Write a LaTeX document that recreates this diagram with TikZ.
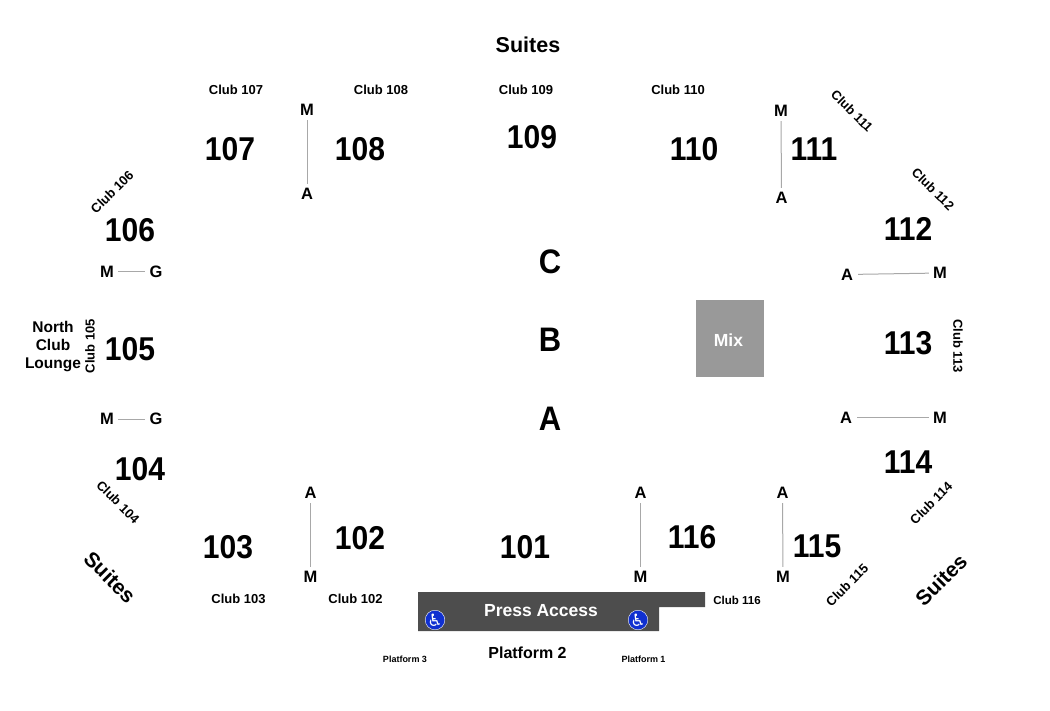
\documentclass[tikz,border=0pt]{standalone}
\usepackage{fontspec}
\setmainfont{Liberation Sans}
\newfontfamily\symfont{DejaVu Sans}
\newfontfamily\numfont[FakeStretch=0.91]{Liberation Sans}
\definecolor{pressgray}{HTML}{4D4D4D}
\definecolor{mixgray}{HTML}{999999}
\definecolor{aislegray}{HTML}{A8A8A8}
\definecolor{accessblue}{HTML}{1030D0}
\tikzset{
    secnum/.style={font=\numfont\fontsize{33}{33}\selectfont\bfseries, inner sep=0pt},
    rownum/.style={font=\numfont\fontsize{34}{34}\selectfont\bfseries, inner sep=0pt},
    clublabel/.style={font=\fontsize{13}{14}\selectfont\bfseries, inner sep=0pt},
    platlabel/.style={font=\fontsize{9}{10}\selectfont\bfseries, inner sep=0pt},
    biglabel/.style={font=\fontsize{15.5}{18}\selectfont\bfseries, inner sep=0pt},
    suiteslabel/.style={font=\fontsize{21}{22}\selectfont\bfseries, inner sep=0pt},
    aislelabel/.style={font=\fontsize{16.5}{17}\selectfont\bfseries, inner sep=0pt, minimum height=20pt, minimum width=22pt},
    aisleline/.style={draw=aislegray, line width=1pt},
    wheelchair/.style={circle, fill=accessblue, draw=white, line width=.4pt, text=white, minimum size=19pt, inner sep=0pt, font=\symfont\fontsize{17}{17}\selectfont},
}
\begin{document}
\begin{tikzpicture}[x=1pt, y=-1pt]
    \useasboundingbox (0,0) rectangle (1050,710);
    % sections
    \foreach \num/\px/\py in {101/525/547, 102/360/538, 103/228/547, 104/140/469,
        105/130/349, 106/130/230, 107/230/149, 108/360/149, 109/532/137, 110/694/149,
        111/814/149, 112/908/229, 113/908/343, 114/908/462, 115/817/546, 116/692/537}
        \node[secnum] (sec\num) at (\px,\py) {\num};
    % rows
    \node[rownum] (rowC) at (550,262) {C};
    \node[rownum] (rowB) at (550,340) {B};
    \node[rownum] (rowA) at (550,419) {A};
    % club labels
    \foreach \num/\px/\py in {102/355.5/599, 103/238.5/599, 107/236/90, 108/381/90, 109/526/90, 110/678/90}
        \node[clublabel] (club\num) at (\px,\py) {Club \num};
    \node[clublabel, font=\fontsize{11.5}{14}\selectfont\bfseries] (club116) at (737,600) {Club 116};
    \node[clublabel, rotate=-45] (club104) at (118,502) {Club 104};
    \node[clublabel, rotate=90]  (club105) at (90,346)  {Club 105};
    \node[clublabel, rotate=45]  (club106) at (112,192) {Club 106};
    \node[clublabel, rotate=-45] (club111) at (852,111) {Club 111};
    \node[clublabel, rotate=-45] (club112) at (933,189) {Club 112};
    \node[clublabel, rotate=-90] (club113) at (958,346) {Club 113};
    \node[clublabel, rotate=45]  (club114) at (931,503) {Club 114};
    \node[clublabel, rotate=45]  (club115) at (847,585) {Club 115};
    % suites
    \node[suiteslabel, font=\fontsize{21.5}{22}\selectfont\bfseries] (suitesT) at (528,45) {Suites};
    \node[suiteslabel, rotate=-45] (suitesL) at (110,577) {Suites};
    \node[suiteslabel, rotate=45]  (suitesR) at (941,580) {Suites};
    % north lounge
    \node[biglabel, align=center] (lounge) at (53,347) {North\\Club\\Lounge};
    % aisles
    \node[aislelabel] (m108) at (307,110) {M};
    \node[aislelabel] (a108) at (307,194) {A};
    \draw[aisleline] (m108) -- (a108);
    \node[aislelabel] (m111) at (781,111) {M};
    \node[aislelabel] (a111) at (781.5,198) {A};
    \draw[aisleline] (m111) -- (a111);
    \node[aislelabel] (a112) at (847,274.5) {A};
    \node[aislelabel] (m112) at (940,273) {M};
    \draw[aisleline] (a112) -- (m112);
    \node[aislelabel] (a114) at (846,417.5) {A};
    \node[aislelabel] (m114) at (940,417.5) {M};
    \draw[aisleline] (a114) -- (m114);
    \node[aislelabel] (m106) at (107,271.5) {M};
    \node[aislelabel] (g106) at (156,271.5) {G};
    \draw[aisleline] (m106) -- (g106);
    \node[aislelabel] (m104) at (107,419) {M};
    \node[aislelabel] (g104) at (156,419) {G};
    \draw[aisleline] (m104) -- (g104);
    \node[aislelabel] (a102) at (310.5,493) {A};
    \node[aislelabel] (m102) at (310.5,577) {M};
    \draw[aisleline] (a102) -- (m102);
    \node[aislelabel] (a116) at (640.5,493) {A};
    \node[aislelabel] (m116) at (640.5,577) {M};
    \draw[aisleline] (a116) -- (m116);
    \node[aislelabel] (a115) at (782.5,493) {A};
    \node[aislelabel] (m115) at (783,577) {M};
    \draw[aisleline] (a115) -- (m115);
    % mix
    \fill[mixgray] (696,300) rectangle (764,377);
    \node[text=white, font=\fontsize{17.5}{17}\selectfont\bfseries, inner sep=0pt] (mix) at (728.5,340) {Mix};
    % press
    \fill[pressgray] (418,592) -- (705,592) -- (705,607) -- (659,607) -- (659,631) -- (418,631) -- cycle;
    \node[font=\fontsize{17.5}{18}\selectfont\bfseries, text=white, inner sep=0pt] (press) at (541,611) {Press Access};
    \node[wheelchair] (chairL) at (435,620) {\char"267F};
    \node[wheelchair] (chairR) at (638,620) {\char"267F};
    % platforms
    \node[biglabel, font=\fontsize{16}{18}\selectfont\bfseries] (plat2) at (527.5,653) {Platform 2};
    \node[platlabel] (plat3) at (405,659) {Platform 3};
    \node[platlabel] (plat1) at (643.5,659) {Platform 1};
\end{tikzpicture}
\end{document}
